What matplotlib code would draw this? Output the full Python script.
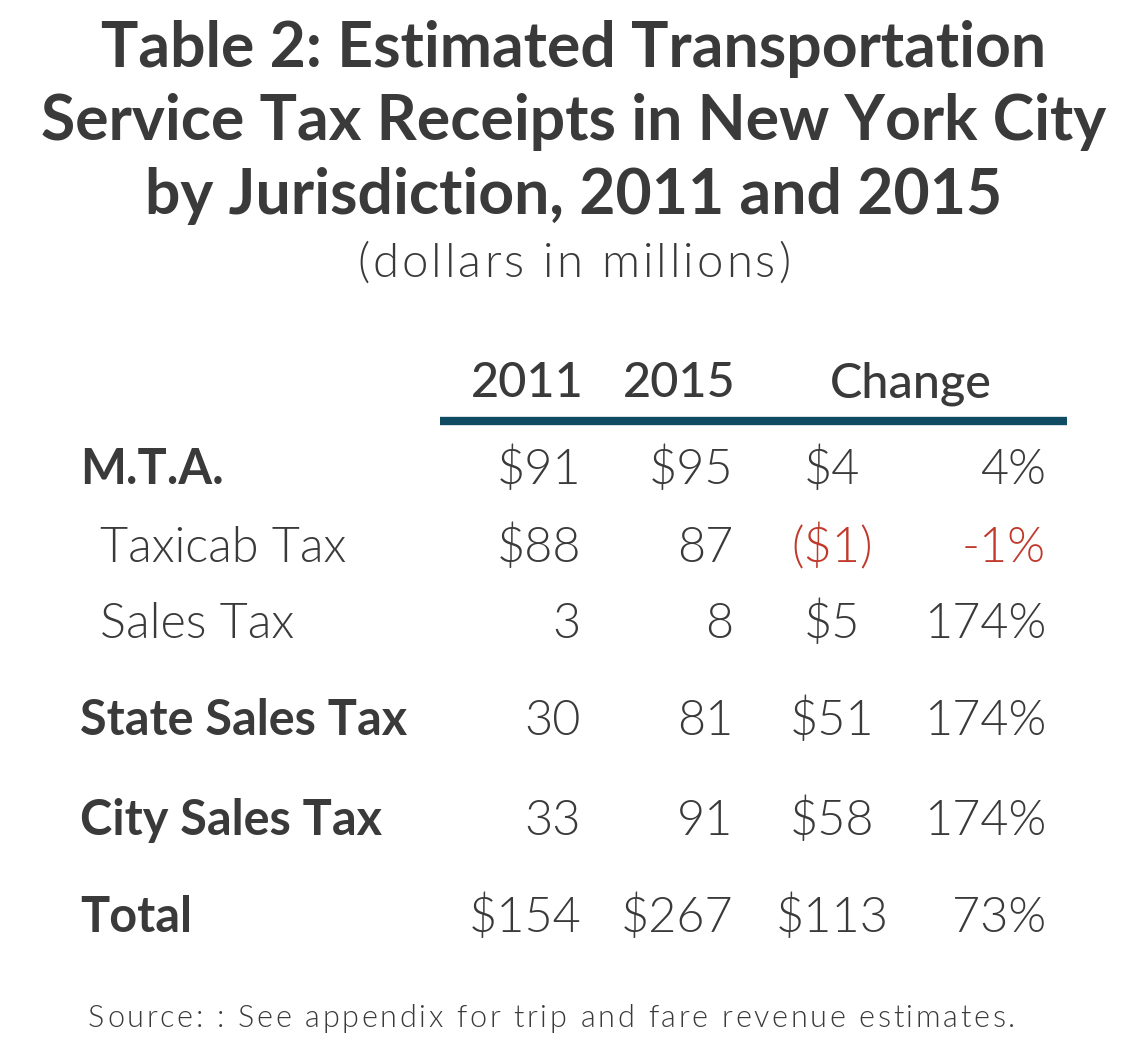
import matplotlib.pyplot as plt
from matplotlib import font_manager as fm
from matplotlib.ft2font import FT2Font

plt.rcParams['font.family'] = ['Lato', 'DejaVu Sans']

W, H = 1148, 1042
TEXT = '#3a3a3a'
RED = '#c0392b'
RULE = '#0f4c63'
LIGHT = 300

title_lines = ["Table 2: Estimated Transportation",
               "Service Tax Receipts in New York City",
               "by Jurisdiction, 2011 and 2015"]
subtitle = "(dollars in millions)"
col_headers = ["2011", "2015", "Change"]

row_labels = ["M.T.A.", "Taxicab Tax", "Sales Tax", "State Sales Tax", "City Sales Tax", "Total"]
row_bold = [True, False, False, True, True, True]
vals_2011 = ["$91", "$88", "3", "30", "33", "$154"]
vals_2015 = ["$95", "87", "8", "81", "91", "$267"]
change_amt = ["$4", "($1)", "$5", "$51", "$58", "$113"]
change_pct = ["4%", "-1%", "174%", "174%", "174%", "73%"]
source = "Source: : See appendix for trip and fare revenue estimates."

fig = plt.figure(figsize=(W / 100, H / 100), dpi=100)
fig.patch.set_facecolor('white')


def put(x, y, s, **kw):
    # pixel coords (top-left origin) -> figure fraction
    fig.text(x / W, 1 - y / H, s, **kw)


def put_tracked(x, y, s, size, weight, width, ha='left', color=TEXT):
    # draw characters one by one, spread so the line is `width` px wide
    path = fm.findfont(fm.FontProperties(family='Lato', weight=weight))
    ft = FT2Font(path)
    ft.set_size(size, 100)
    adv = []
    for ch in s:
        g = ft.load_char(ord(ch))
        adv.append(g.linearHoriAdvance / 65536)
    natural = sum(adv)
    track = (width - natural) / (len(s) - 1)
    x0 = x - width / 2 if ha == 'center' else x
    cx = x0
    for ch, a in zip(s, adv):
        if ch != ' ':
            put(cx, y, ch, ha='left', va='baseline', fontsize=size, fontweight=weight, color=color)
        cx += a + track


title_base = [67, 140, 214]
for line, yb in zip(title_lines, title_base):
    put(574, yb, line, ha='center', va='baseline', fontsize=45, fontweight='bold', color=TEXT)
put_tracked(574, 277, subtitle, 34, LIGHT, 433, ha='center')

# column headers
header_x = [527, 679, 911]
for hx, h in zip(header_x, col_headers):
    put(hx, 397, h, ha='center', va='baseline', fontsize=35, fontweight=500, color=TEXT)

# rule under headers
fig.add_artist(plt.Line2D([440 / W, 1067 / W], [1 - 421 / H, 1 - 421 / H],
                          color=RULE, linewidth=6, solid_capstyle='butt'))

row_base = [484, 562, 638, 735, 835, 932]
for i, yb in enumerate(row_base):
    bold = row_bold[i]
    lx = 80 if bold else 100
    put(lx, yb, row_labels[i], ha='left', va='baseline', fontsize=35,
        fontweight='bold' if bold else LIGHT, color=TEXT)
    neg = change_amt[i].startswith('(')
    c = RED if neg else TEXT
    put(581, yb, vals_2011[i], ha='right', va='baseline', fontsize=35, fontweight=LIGHT, color=TEXT)
    put(733, yb, vals_2015[i], ha='right', va='baseline', fontsize=35, fontweight=LIGHT, color=TEXT)
    put(832, yb, change_amt[i], ha='center', va='baseline', fontsize=35, fontweight=LIGHT, color=c)
    put(1046, yb, change_pct[i], ha='right', va='baseline', fontsize=35, fontweight=LIGHT, color=c)

put_tracked(88, 1027, source, 22, LIGHT, 927)

fig.savefig('out.png', dpi=100, facecolor='white')
